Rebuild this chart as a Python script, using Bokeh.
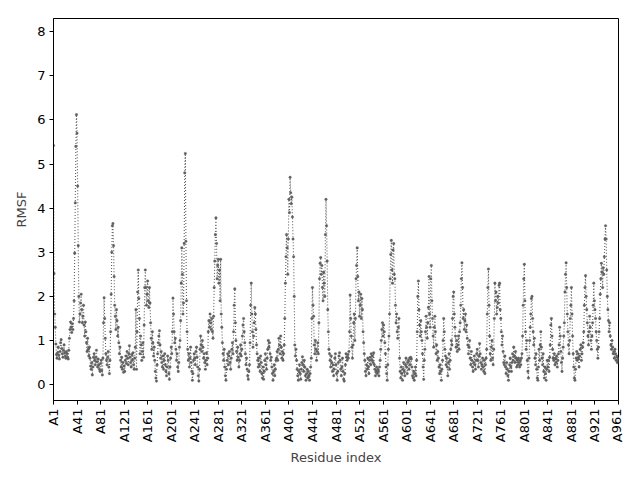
from bokeh.plotting import figure
from bokeh.models import Range1d, FixedTicker
from bokeh.embed import file_html
from bokeh.resources import INLINE

# RMSF per residue (residues A1..A961)
rmsf = [
5.42, 2.52, 1.60, 1.30, 0.92, 0.68, 0.60, 0.72, 0.85, 0.66, 0.58, 0.75, 0.95, 1.02, 0.82, 0.70, 0.62, 0.78, 0.90, 0.72,
0.65, 0.60, 0.75, 0.70, 0.62, 0.58, 0.78, 1.05, 1.25, 1.42, 1.30, 1.18, 1.38, 1.25, 1.50, 1.90, 2.98, 4.12, 5.40, 6.12,
5.70, 4.50, 3.15, 2.00, 1.42, 1.60, 1.85, 2.05, 1.70, 1.40, 1.55, 1.80, 1.35, 1.10, 1.42, 1.20, 0.95, 0.75, 1.05, 0.80,
0.65, 0.85, 0.60, 0.42, 0.35, 0.50, 0.22, 0.40, 0.62, 0.70, 0.55, 0.45, 0.62, 0.78, 0.52, 0.40, 0.58, 0.45, 0.35, 0.30,
0.48, 0.55, 0.32, 0.22, 0.60, 1.40, 1.97, 1.50, 1.05, 0.70, 0.55, 0.45, 0.62, 0.75, 0.40, 0.25, 0.55, 1.20, 2.05, 3.00,
3.60, 3.65, 3.15, 2.45, 1.80, 1.55, 1.25, 1.70, 1.45, 1.10, 1.30, 0.95, 0.70, 0.85, 0.55, 0.40, 0.62, 0.35, 0.50, 0.28,
0.42, 0.30, 0.55, 0.65, 0.48, 0.75, 0.60, 0.45, 0.70, 0.88, 0.62, 0.50, 0.40, 0.68, 0.55, 0.72, 0.45, 0.35, 0.60, 0.85,
1.70, 0.35, 1.20, 2.10, 2.60, 1.95, 1.50, 0.70, 1.10, 0.90, 0.55, 0.75, 0.95, 0.62, 1.35, 2.20, 2.60, 2.20, 1.80, 2.05,
2.35, 1.90, 1.75, 2.20, 1.85, 1.40, 1.05, 0.80, 1.20, 0.95, 0.65, 0.85, 0.55, 0.30, 0.15, 0.08, 0.45, 0.70, 0.95, 1.10,
1.22, 0.90, 0.60, 0.75, 0.50, 0.40, 0.65, 0.35, 0.55, 0.70, 0.45, 0.30, 0.20, 0.40, 0.65, 0.55, 0.25, 0.12, 0.40, 0.60,
0.85, 0.70, 1.20, 1.96, 1.60, 1.20, 0.95, 1.05, 0.80, 0.55, 0.70, 0.40, 0.30, 0.50, 0.85, 1.00, 1.45, 2.30, 3.10, 2.50,
1.60, 1.85, 3.20, 4.80, 5.24, 3.25, 1.90, 1.20, 0.80, 0.55, 0.70, 0.40, 0.60, 0.85, 0.50, 0.30, 0.10, 0.25, 0.55, 0.70,
0.60, 0.45, 0.75, 0.85, 0.62, 0.40, 0.20, 0.08, 0.35, 0.80, 1.10, 0.90, 0.75, 1.00, 0.85, 0.60, 0.70, 0.50, 0.35, 0.55,
0.72, 0.45, 0.60, 1.20, 1.45, 1.30, 1.60, 1.40, 1.25, 1.50, 1.20, 1.05, 1.55, 2.20, 2.80, 3.40, 3.78, 3.20, 2.40, 2.70,
2.84, 2.30, 2.60, 1.90, 2.84, 1.60, 1.30, 0.95, 0.70, 0.55, 0.80, 0.40, 0.20, 0.10, 0.35, 0.55, 0.70, 0.45, 0.65, 0.75,
0.50, 0.35, 0.60, 0.80, 0.95, 0.70, 1.20, 1.80, 2.17, 1.40, 1.00, 0.75, 0.55, 0.85, 0.62, 0.40, 0.55, 0.70, 0.90, 0.65,
0.80, 1.10, 1.35, 1.50, 1.20, 0.95, 0.70, 0.45, 0.60, 0.35, 0.20, 0.12, 0.30, 0.45, 0.95, 1.80, 2.30, 1.60, 1.20, 0.85,
1.10, 1.40, 1.75, 1.60, 1.25, 0.90, 0.70, 0.55, 0.40, 0.60, 0.45, 0.30, 0.65, 0.50, 0.25, 0.15, 0.40, 0.12, 0.30, 0.55,
0.70, 0.45, 0.35, 0.60, 0.80, 1.00, 0.85, 0.95, 0.70, 0.55, 0.62, 0.40, 0.25, 0.10, 0.30, 0.45, 0.20, 0.35, 0.55, 0.60,
0.75, 0.55, 0.80, 1.05, 0.90, 0.70, 1.10, 0.85, 0.60, 0.75, 0.55, 0.70, 0.90, 1.50, 2.30, 2.90, 3.40, 3.10, 2.50, 3.30,
4.20, 3.90, 4.70, 4.35, 4.10, 4.25, 3.80, 3.30, 2.90, 2.00, 0.90, 0.65, 0.80, 0.55, 0.35, 0.20, 0.10, 0.30, 0.45, 0.25,
0.12, 0.35, 0.50, 0.63, 0.45, 0.30, 0.55, 0.40, 0.20, 0.10, 0.25, 0.35, 0.15, 0.30, 0.20, 0.10, 0.25, 0.40, 0.60, 1.50,
2.20, 1.80, 1.55, 0.90, 0.70, 1.00, 0.80, 0.55, 0.75, 0.95, 0.70, 1.40, 2.40, 2.75, 2.88, 2.50, 2.70, 2.20, 1.90, 2.55,
2.30, 2.00, 3.40, 4.20, 3.60, 2.80, 1.70, 1.20, 0.80, 0.70, 0.55, 0.40, 0.65, 0.50, 0.30, 0.45, 0.20, 0.35, 0.60, 0.70,
0.45, 0.25, 0.10, 0.30, 0.50, 0.65, 0.72, 0.55, 0.35, 0.20, 0.40, 0.60, 0.30, 0.12, 0.08, 0.25, 0.45, 0.70, 0.62, 0.55,
0.68, 0.60, 0.75, 1.20, 2.03, 1.50, 1.10, 0.85, 0.60, 0.90, 1.40, 1.60, 1.00, 1.50, 2.40, 2.70, 3.10, 2.45, 1.90, 2.10,
1.55, 1.80, 2.05, 1.50, 1.95, 1.70, 1.20, 0.95, 0.70, 0.55, 0.30, 0.20, 0.45, 0.35, 0.60, 0.40, 0.25, 0.55, 0.62, 0.45,
0.70, 0.55, 0.65, 0.50, 0.72, 0.45, 0.35, 0.20, 0.30, 0.40, 0.25, 0.35, 0.30, 0.20, 0.40, 0.55, 0.80, 1.00, 1.25, 1.40,
1.10, 1.35, 1.20, 0.95, 0.70, 0.40, 0.25, 0.10, 0.45, 0.80, 1.10, 1.60, 2.40, 2.95, 3.27, 2.60, 2.30, 3.05, 3.20, 2.50,
2.40, 1.80, 1.40, 1.60, 1.20, 1.05, 1.30, 1.50, 0.60, 0.30, 0.15, 0.40, 0.25, 0.10, 0.35, 0.50, 0.30, 0.20, 0.45, 0.60,
0.40, 0.25, 0.50, 0.55, 0.35, 0.60, 0.45, 0.62, 0.58, 0.40, 0.20, 0.15, 0.30, 0.10, 0.25, 0.40, 0.20, 0.55, 1.20, 2.00,
2.35, 1.70, 1.35, 1.10, 1.45, 1.20, 1.00, 0.70, 0.40, 0.12, 0.55, 0.80, 1.20, 1.55, 1.30, 1.05, 1.40, 1.75, 2.45, 1.60,
1.30, 2.40, 2.70, 1.90, 1.50, 1.10, 0.85, 1.30, 1.55, 1.20, 0.70, 0.90, 0.55, 0.75, 0.60, 0.40, 0.25, 0.45, 0.30, 0.10,
0.35, 0.55, 1.00, 1.50, 1.20, 0.80, 0.65, 0.45, 0.60, 0.40, 0.20, 0.50, 0.70, 0.35, 0.55, 0.80, 1.00, 0.90, 1.50, 2.00,
2.10, 1.60, 1.30, 1.10, 0.85, 1.00, 0.75, 0.90, 1.10, 0.80, 1.20, 1.40, 1.80, 2.40, 2.76, 2.20, 1.50, 1.70, 1.25, 1.45,
1.60, 1.20, 1.35, 1.05, 0.90, 0.70, 0.85, 1.00, 0.60, 0.45, 0.75, 0.55, 0.40, 0.30, 0.50, 0.65, 0.45, 0.35, 0.55, 0.70,
0.80, 0.55, 0.40, 0.65, 0.93, 0.70, 0.50, 0.35, 0.45, 0.60, 0.40, 0.30, 0.55, 0.25, 0.45, 0.60, 0.80, 1.60, 2.20, 2.62,
1.80, 1.10, 0.70, 0.55, 0.85, 1.00, 0.60, 0.45, 0.80, 1.50, 2.30, 1.90, 2.10, 1.60, 1.75, 2.00, 1.85, 2.25, 2.30, 1.70,
1.50, 1.20, 0.90, 1.10, 0.75, 0.50, 0.45, 0.65, 0.40, 0.25, 0.50, 0.35, 0.20, 0.10, 0.30, 0.45, 0.60, 0.40, 0.30, 0.50,
0.70, 0.55, 0.85, 0.65, 0.50, 0.75, 0.60, 0.40, 0.55, 0.45, 0.60, 0.50, 0.40, 0.55, 0.45, 0.60, 0.70, 1.10, 1.80, 2.40,
2.73, 1.90, 1.20, 0.80, 1.00, 0.55, 0.30, 0.15, 0.60, 1.00, 1.30, 1.60, 1.95, 2.00, 1.50, 1.20, 0.90, 1.05, 0.60, 0.45,
0.70, 0.35, 0.15, 0.10, 0.40, 0.80, 0.55, 0.90, 1.20, 0.85, 0.60, 0.45, 0.70, 0.30, 0.15, 0.40, 0.25, 0.10, 0.35, 0.55,
0.40, 0.55, 0.30, 0.62, 0.90, 1.35, 1.50, 1.10, 0.80, 0.60, 0.55, 0.70, 0.45, 0.60, 0.50, 0.65, 0.40, 0.55, 0.70, 0.90,
1.30, 1.10, 0.75, 0.50, 0.30, 0.60, 0.85, 1.10, 1.40, 2.10, 2.50, 2.76, 2.20, 1.60, 1.20, 0.90, 0.70, 1.00, 1.50, 1.80,
2.20, 1.60, 1.10, 0.70, 0.40, 0.15, 0.10, 0.35, 0.60, 0.75, 0.55, 0.70, 0.60, 0.40, 0.65, 0.80, 0.90, 0.55, 0.70, 0.85,
0.95, 1.20, 1.80, 2.20, 2.47, 2.00, 1.70, 1.40, 1.10, 0.90, 1.20, 1.55, 1.30, 1.00, 0.80, 1.10, 1.40, 1.80, 2.30, 1.90,
1.70, 1.50, 1.20, 1.00, 0.80, 0.60, 0.85, 1.20, 1.50, 2.05, 2.40, 2.75, 2.55, 2.20, 2.65, 2.50, 2.90, 3.30, 3.60, 3.30,
2.60, 2.00, 1.70, 1.45, 1.20, 1.40, 1.10, 0.90, 0.80, 1.00, 0.85, 0.70, 0.75, 0.60, 0.80, 0.70, 0.55, 0.65, 0.50, 0.60, 0.55,
]
residues = list(range(1, len(rmsf) + 1))

x_ticks = list(range(1, 962, 40))
x_tick_labels = ["A%d" % t for t in x_ticks]
y_ticks = [0, 1, 2, 3, 4, 5, 6, 7, 8]

FONT = "DejaVu Sans"
COL = "#606060"

p = figure(width=624, height=468, output_backend="svg", toolbar_location=None,
           x_range=Range1d(1, 961), y_range=Range1d(-0.36, 8.3),
           min_border_left=53, min_border_right=6, min_border_top=18, min_border_bottom=68)

p.line(residues, rmsf, line_color=COL, line_width=1.1, line_dash="1 2")
p.scatter(residues, rmsf, marker="circle", size=2.6, fill_color=COL, line_color=COL, line_width=0.3)

p.xgrid.visible = False
p.ygrid.visible = False
p.outline_line_color = "black"
p.outline_line_width = 1
p.background_fill_color = "white"
p.border_fill_color = "white"

p.xaxis.ticker = FixedTicker(ticks=x_ticks)
p.xaxis.major_label_overrides = {t: l for t, l in zip(x_ticks, x_tick_labels)}
p.xaxis.major_label_orientation = 1.5708
p.yaxis.ticker = FixedTicker(ticks=y_ticks)

for ax in (p.xaxis[0], p.yaxis[0]):
    ax.minor_tick_line_color = None
    ax.major_tick_out = 4
    ax.major_tick_in = 0
    ax.major_label_text_font = FONT
    ax.major_label_text_font_size = "13px"
    ax.major_label_text_color = "black"
    ax.axis_label_text_font = FONT
    ax.axis_label_text_font_size = "13px"
    ax.axis_label_text_font_style = "normal"
    ax.axis_line_color = "black"

p.xaxis.axis_label = "Residue index"
p.yaxis.axis_label = "RMSF"
p.xaxis.major_label_standoff = 4
p.yaxis.major_label_standoff = 4

open("out.html", "w").write(file_html(p, INLINE))
